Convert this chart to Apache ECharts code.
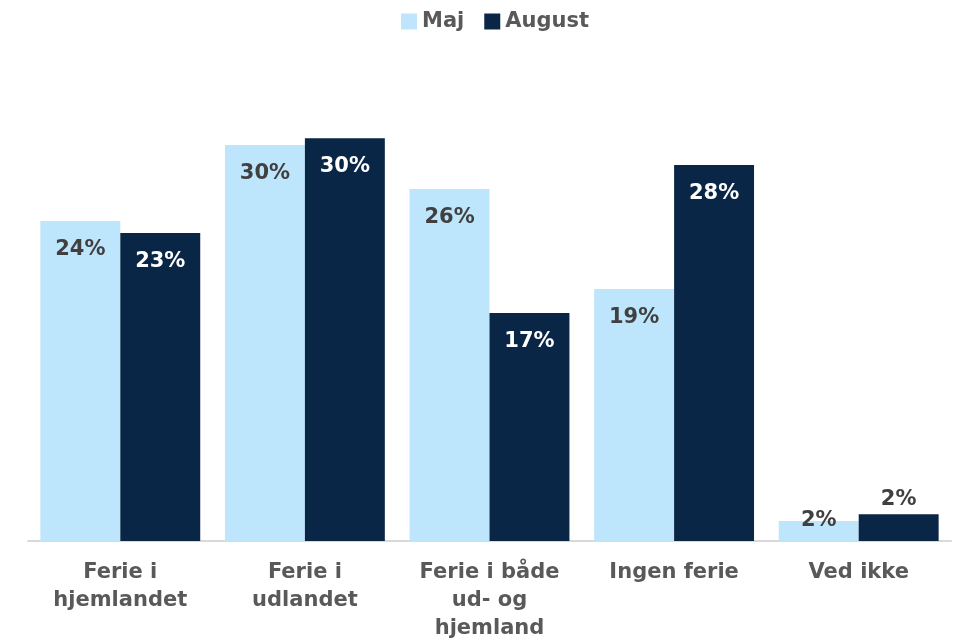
<!DOCTYPE html>
<html>
<head>
<meta charset="utf-8">
<script src="https://cdn.jsdelivr.net/npm/echarts@6/dist/echarts.min.js"></script>
<style>html,body{margin:0;padding:0;background:#fff}#c{width:954px;height:641px}</style>
</head>
<body>
<div id="c"></div>
<script>
const categories = ['Ferie i\nhjemlandet', 'Ferie i\nudlandet', 'Ferie i både\nud- og\nhjemland', 'Ingen ferie', 'Ved ikke'];
const seriesNames = ['Maj', 'August'];
const majValues = [24.0, 29.7, 26.4, 18.9, 1.5];
const augustValues = [23.1, 30.2, 17.1, 28.2, 2.0];

const FONT = '"DejaVu Sans", sans-serif';
const fmt = p => Math.round(p.value) + '%';

function buildData(vals, isMaj) {
  return vals.map((v, i) => {
    if (v < 5) {
      return { value: v, label: { position: 'top', distance: isMaj ? -10 : 4, color: '#404040' } };
    }
    return v;
  });
}

const chart = echarts.init(document.getElementById('c'));
chart.setOption({
  animation: false,
  textStyle: { fontFamily: FONT },
  legend: {
    top: 6, left: 396,
    itemWidth: 16, itemHeight: 16, itemGap: 20,
    icon: 'rect',
    textStyle: { fontFamily: FONT, fontSize: 21, fontWeight: 'bold', color: '#595959' }
  },
  grid: { left: 28, right: 3, top: 61, bottom: 100, containLabel: false, outerBoundsMode: 'none' },
  xAxis: {
    type: 'category', data: categories,
    axisLine: { lineStyle: { color: '#d9d9d9', width: 2 } },
    axisTick: { show: false },
    axisLabel: { fontFamily: FONT, fontSize: 21, fontWeight: 'bold', color: '#595959', lineHeight: 28, margin: 18, interval: 0 }
  },
  yAxis: { type: 'value', min: 0, max: 36, show: false, splitLine: { show: false } },
  series: [
    {
      name: seriesNames[0], type: 'bar', data: buildData(majValues, true),
      itemStyle: { color: '#bde5fc' }, barGap: '0%', barCategoryGap: '13.4%',
      label: { show: true, position: 'insideTop', distance: 18, formatter: fmt, fontFamily: FONT, fontSize: 21, fontWeight: 'bold', color: '#404040' }
    },
    {
      name: seriesNames[1], type: 'bar', data: buildData(augustValues, false),
      itemStyle: { color: '#0a2646' }, barGap: '0%', barCategoryGap: '13.4%',
      label: { show: true, position: 'insideTop', distance: 18, formatter: fmt, fontFamily: FONT, fontSize: 21, fontWeight: 'bold', color: '#ffffff' }
    }
  ]
});
</script>
</body>
</html>
